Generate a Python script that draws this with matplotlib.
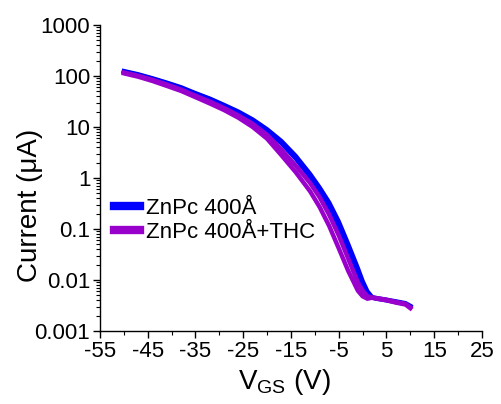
import matplotlib.pyplot as plt
import numpy as np
from matplotlib.ticker import LogLocator, MultipleLocator, NullFormatter

plt.rcParams['font.family'] = ['Liberation Sans', 'DejaVu Sans']

# gate sweep (V), same grid for both devices and both sweep directions
vgs = [-50, -47, -44, -41, -38, -35, -32, -29, -26, -23, -20, -17, -14, -11,
       -9, -7, -5, -3, -1, 0, 1, 2, 3, 5, 7, 9, 10]

# drain current (uA), ZnPc 400A
znpc_fwd = [125, 108, 90, 74, 60, 46, 36, 27, 20, 14, 9.0, 5.3, 2.7, 1.2,
            0.65, 0.33, 0.14, 0.05, 0.017, 0.0095, 0.006, 0.0046, 0.0044,
            0.0041, 0.0038, 0.0035, 0.0031]
znpc_rev = [121, 105, 88, 72, 58, 45, 35, 26, 19, 13.2, 8.4, 4.8, 2.4, 1.05,
            0.55, 0.27, 0.11, 0.038, 0.013, 0.008, 0.0055, 0.0045, 0.0043,
            0.0040, 0.0037, 0.0034, 0.0030]

# drain current (uA), ZnPc 400A + THC
thc_fwd = [117, 101, 84, 68, 54, 41, 31.5, 23.5, 16.8, 11.5, 7.0, 3.6, 1.75, 0.8,
           0.42, 0.19, 0.075, 0.026, 0.009, 0.0062, 0.0048, 0.0045, 0.0044,
           0.0041, 0.0037, 0.0034, 0.0029]
thc_rev = [113, 97, 80, 64, 51, 38.5, 29, 21.5, 15.2, 10.0, 5.9, 2.8, 1.3, 0.55,
           0.27, 0.115, 0.042, 0.015, 0.0062, 0.0048, 0.0043, 0.0045, 0.0043,
           0.0040, 0.0036, 0.0033, 0.0028]

labels = ['ZnPc 400Å', 'ZnPc 400Å+THC']
colors = ['#0000FF', '#9A00CC']

yticks = [0.001, 0.01, 0.1, 1, 10, 100, 1000]
ytick_labels = ['0.001', '0.01', '0.1', '1', '10', '100', '1000']
xticks = [-55, -45, -35, -25, -15, -5, 5, 15, 25]

fig = plt.figure(figsize=(5.01, 4.04), dpi=100)
ax = fig.add_axes([0.1996, 0.1807, 0.7624, 0.7573])

lw = 3.2
l1, = ax.plot(vgs, znpc_fwd, color=colors[0], lw=lw, label=labels[0])
ax.plot(vgs, znpc_rev, color=colors[0], lw=lw)
ax.plot(vgs, thc_rev, color=colors[1], lw=lw)
l2, = ax.plot(vgs, thc_fwd, color=colors[1], lw=lw, label=labels[1])

ax.set_yscale('log')
ax.set_xlim(-55, 25)
ax.set_ylim(0.001, 1000)
ax.set_xticks(xticks)
ax.set_xticklabels([str(t) for t in xticks])
ax.xaxis.set_minor_locator(MultipleLocator(5))
ax.set_yticks(yticks)
ax.set_yticklabels(ytick_labels)
ax.yaxis.set_minor_locator(LogLocator(base=10, subs=np.arange(2, 10)))
ax.yaxis.set_minor_formatter(NullFormatter())

for s in ['top', 'right']:
    ax.spines[s].set_visible(False)
for s in ['left', 'bottom']:
    ax.spines[s].set_linewidth(1.0)

ax.tick_params(which='major', direction='out', length=5, width=1.0,
               labelsize=16, pad=2)
ax.tick_params(which='minor', direction='out', length=3, width=0.8)

ax.set_xlabel('V$_{\\mathregular{GS}}$ (V)', fontsize=20)
ax.set_ylabel('Current (μA)', fontsize=20)
ax.xaxis.set_label_coords(0.484, -0.118)
ax.yaxis.set_label_coords(-0.15, 0.41)

leg = ax.legend(handles=[l1, l2], loc='center left',
                bbox_to_anchor=(0.037, 0.361), frameon=False, fontsize=16,
                handlelength=1.15, handletextpad=0.3, labelspacing=0.15,
                borderpad=0, borderaxespad=0)
for h in leg.get_lines():
    h.set_linewidth(6)

fig.savefig('out.png', dpi=100)
